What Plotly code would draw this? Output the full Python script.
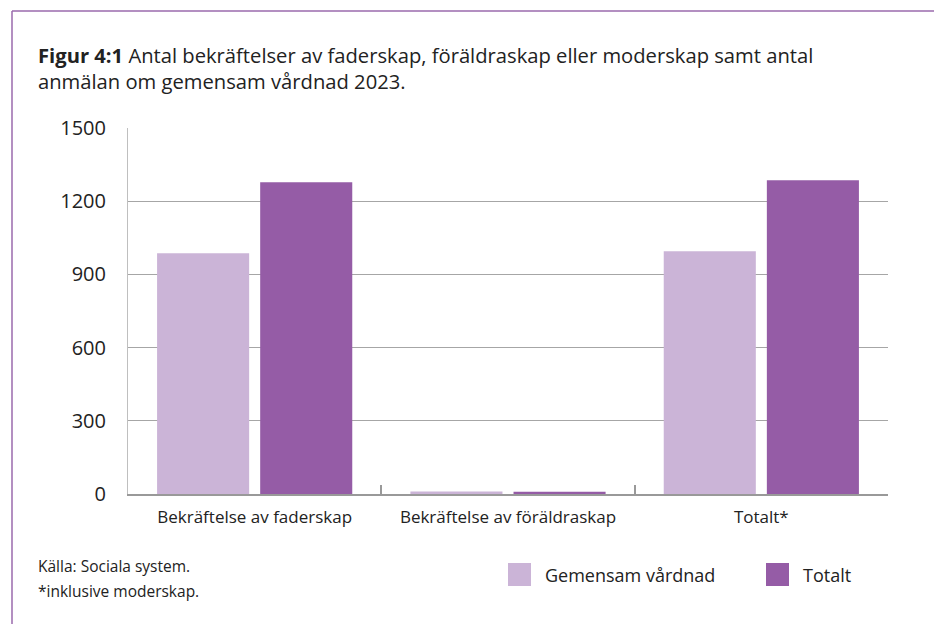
import plotly.graph_objects as go

categories = ["Bekräftelse av faderskap", "Bekräftelse av föräldraskap", "Totalt*"]
gemensam_values = [987, 10, 995]
totalt_values = [1278, 9, 1286]
series_names = ["Gemensam vårdnad", "Totalt"]
y_ticks = [0, 300, 600, 900, 1200, 1500]

title_line1 = "<b>Figur 4:1</b> Antal bekräftelser av faderskap, föräldraskap eller moderskap samt antal"
title_line2 = "anmälan om gemensam vårdnad 2023."
source_lines = ["Källa: Sociala system.", "*inklusive moderskap."]

light = "#cbb4d7"
dark = "#955ca6"
border = "#9a6aad"
W, H = 942, 624
OFF = 8  # page margin offset of the rendered figure
L, T = 120, 120
R = W - (888 - OFF)
B = H - (494 - OFF)
pw, ph = W - L - R, H - T - B


def px(xs):
    return (xs - OFF - L) / pw


def py(ys):
    return (H - B - (ys - OFF)) / ph


font_main = "Open Sans, Noto Sans, sans-serif"
txt = "#222222"

fig = go.Figure()
fig.add_trace(go.Bar(x=categories, y=gemensam_values, name=series_names[0],
                     marker=dict(color=light, line=dict(width=0)), showlegend=False))
fig.add_trace(go.Bar(x=categories, y=totalt_values, name=series_names[1],
                     marker=dict(color=dark, line=dict(width=0)), showlegend=False))

shapes = [
    dict(type="line", xref="paper", yref="paper", x0=px(12), x1=px(W + 20), y0=py(11), y1=py(11),
         line=dict(color=border, width=1.5)),
    dict(type="line", xref="paper", yref="paper", x0=px(12), x1=px(12), y0=py(11), y1=py(H + 20),
         line=dict(color=border, width=1.5)),
]
annotations = []
for i, line in enumerate([title_line1, title_line2]):
    annotations.append(dict(text=line, xref="paper", yref="paper", x=px(36), y=py(55 + 26 * i),
                            xanchor="left", yanchor="middle", showarrow=False, align="left",
                            font=dict(family=font_main, size=20.2, color=txt)))
for i, line in enumerate(source_lines):
    annotations.append(dict(text=line, xref="paper", yref="paper", x=px(36), y=py(566 + 25 * i),
                            xanchor="left", yanchor="middle", showarrow=False, align="left",
                            font=dict(family=font_main, size=15.5, color=txt)))
legend_items = [(series_names[0], light, 508), (series_names[1], dark, 766)]
for name, col, x0 in legend_items:
    shapes.append(dict(type="rect", xref="paper", yref="paper", x0=px(x0), x1=px(x0 + 23),
                       y0=py(563), y1=py(586), fillcolor=col, line=dict(width=0)))
    annotations.append(dict(text=name, xref="paper", yref="paper", x=px(x0 + 35), y=py(575),
                            xanchor="left", yanchor="middle", showarrow=False,
                            font=dict(family=font_main, size=18, color=txt)))

fig.update_layout(
    width=W, height=H,
    margin=dict(l=L, r=R, t=T, b=B, pad=0),
    paper_bgcolor="white", plot_bgcolor="white",
    barmode="group", bargap=0.186, bargroupgap=0.107,
    shapes=shapes, annotations=annotations,
    xaxis=dict(showline=True, linecolor="#999999", linewidth=1.5, ticks="inside", tickson="boundaries",
               ticklen=9, tickcolor="#999999", tickwidth=1.5, showgrid=False,
               tickfont=dict(family=font_main, size=17, color=txt), ticklabelstandoff=7),
    yaxis=dict(range=[0, 1500], tickvals=y_ticks, showgrid=True, gridcolor="#a6a6a6", gridwidth=1,
               showline=True, linecolor="#bfbfbf", linewidth=1, ticks="", zeroline=False,
               tickfont=dict(family=font_main, size=20, color=txt), ticklabelstandoff=17),
    font=dict(family=font_main),
)

fig.write_html("out.html")
